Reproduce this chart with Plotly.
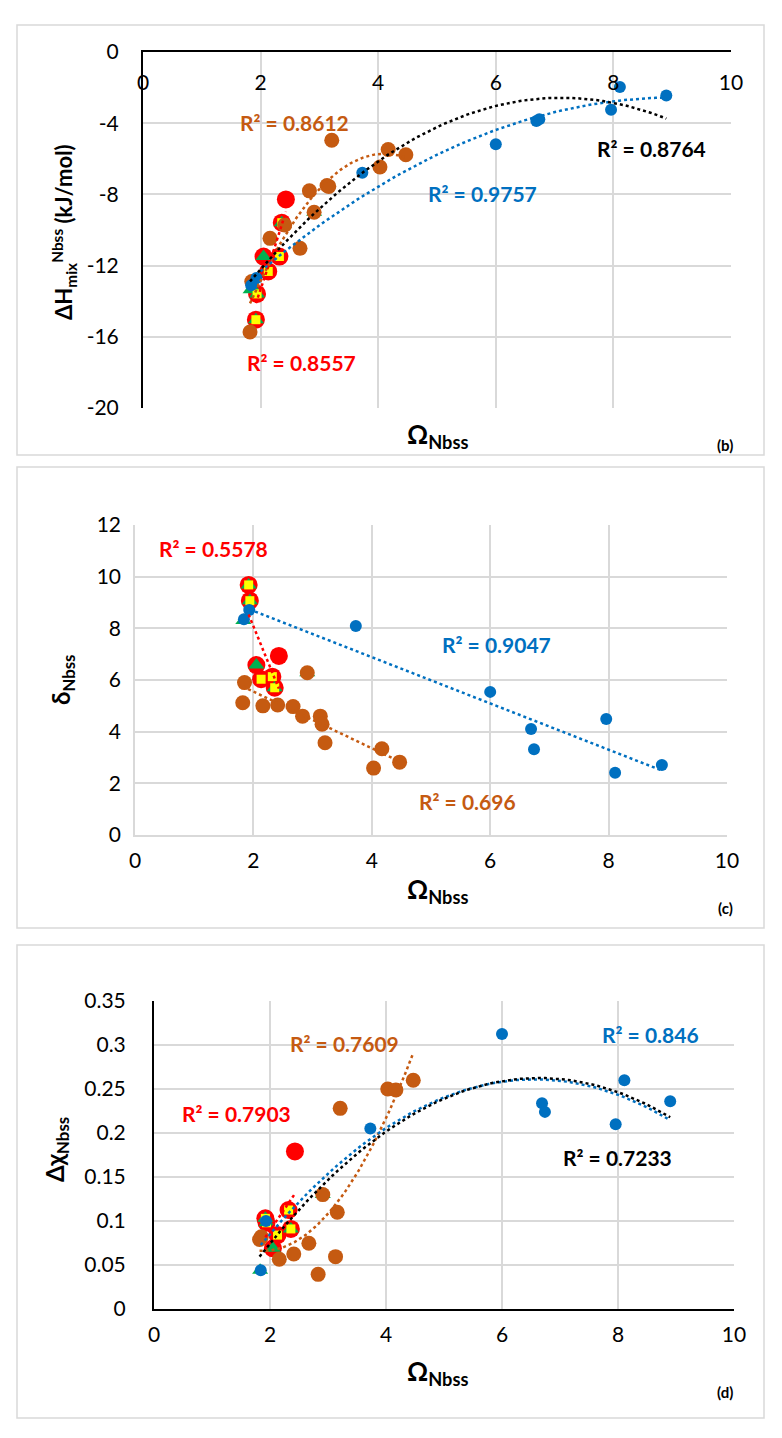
import numpy as np
import plotly.graph_objects as go

# page has an 8px body margin, so the figure is drawn 8px in from the corner
OFF = 8
W, H = 782 - OFF, 1438 - OFF

# Omega_Nbss (shared by the three panels)
blue_x = [1.84, 1.93, 3.73, 6.00, 6.69, 6.74, 7.96, 8.11, 8.90]
brown_x = [1.82, 1.85, 2.16, 2.41, 2.67, 2.83, 2.91, 3.13, 3.16, 3.21, 4.03, 4.17, 4.47]
red_x = [1.92, 1.94, 2.05, 2.13, 2.32, 2.36, 2.43]
green_x = [1.83, 1.92, 1.94, 2.05, 2.36, 2.91]
yellow_x = [1.92, 1.94, 2.13, 2.32, 2.36]

# (b) dH_mix Nbss (kJ/mol)
blue_h = [-13.1, -12.7, -6.79, -5.18, -3.87, -3.78, -3.24, -1.97, -2.44]
brown_h = [-15.73, -12.9, -10.47, -9.72, -11.03, -7.8, -9.0, -7.5, -7.55, -4.96, -6.46, -5.48, -5.77]
red_h = [-15.04, -13.59, -11.49, -12.33, -11.49, -9.59, -8.28]
green_h = [-13.36, -15.04, -13.59, -11.49, -9.59, -9.0]
yellow_h = [-15.04, -13.59, -12.33, -11.49, -9.59]
h_ticks = [-20, -16, -12, -8, -4, 0]
h_labels = ['-20', '-16', '-12', '-8', '-4', '0']

# (c) delta Nbss
blue_d = [8.35, 8.71, 8.09, 5.54, 4.10, 3.32, 4.49, 2.41, 2.71]
brown_d = [5.12, 5.90, 5.00, 5.03, 4.97, 4.60, 6.28, 4.60, 4.29, 3.57, 2.59, 3.34, 2.82]
red_d = [9.68, 9.07, 6.58, 6.03, 6.13, 5.70, 6.93]
green_d = [8.30, 9.68, 9.07, 6.58, 5.70, 6.28]
yellow_d = [9.68, 9.07, 6.03, 6.13, 5.70]

# (d) delta chi Nbss
blue_c = [0.044, 0.100, 0.205, 0.3125, 0.2337, 0.224, 0.210, 0.260, 0.236]
brown_c = [0.079, 0.082, 0.0565, 0.0625, 0.0747, 0.0394, 0.130, 0.0595, 0.110, 0.228, 0.250, 0.249, 0.260]
red_c = [0.103, 0.098, 0.069, 0.084, 0.1125, 0.091, 0.179]
green_c = [0.044, 0.103, 0.098, 0.069, 0.091, 0.130]
yellow_c = [0.103, 0.098, 0.084, 0.1125, 0.091]

BLUE = '#0070C0'
BROWN = '#C55A11'
RED = '#FF0000'
GREEN = '#00B050'
YELLOW = '#FFFF00'
GRID = '#D9D9D9'
FONT = 'Lato'


def fx(px):
    return (px - OFF) / W


def fy(py):
    return 1 - (py - OFF) / H


def trend(x, y, order):
    # excel style polynomial trendline over the range of the series
    c = np.polyfit(x, y, order)
    xs = np.linspace(min(x), max(x), 80)
    return xs, np.polyval(c, xs)


fig = go.Figure()

panels = [
    ('x', 'y', (blue_h, brown_h, red_h, green_h, yellow_h), {'blue': 2, 'brown': 2, 'red': 2, 'black': 2}),
    ('x2', 'y2', (blue_d, brown_d, red_d, green_d, yellow_d), {'blue': 1, 'brown': 1, 'red': 1}),
    ('x3', 'y3', (blue_c, brown_c, red_c, green_c, yellow_c), {'blue': 2, 'brown': 2, 'red': 1, 'black': 2}),
]

for xa, ya, (b, br, r, g, yl), orders in panels:
    # markers
    fig.add_trace(go.Scatter(x=red_x, y=r, mode='markers', xaxis=xa, yaxis=ya,
                             marker=dict(color=RED, size=18)))
    fig.add_trace(go.Scatter(x=green_x, y=g, mode='markers', xaxis=xa, yaxis=ya,
                             marker=dict(color=GREEN, size=14, symbol='triangle-up')))
    fig.add_trace(go.Scatter(x=yellow_x, y=yl, mode='markers', xaxis=xa, yaxis=ya,
                             marker=dict(color=YELLOW, size=9, symbol='square')))
    fig.add_trace(go.Scatter(x=brown_x, y=br, mode='markers', xaxis=xa, yaxis=ya,
                             marker=dict(color=BROWN, size=15)))
    fig.add_trace(go.Scatter(x=blue_x, y=b, mode='markers', xaxis=xa, yaxis=ya,
                             marker=dict(color=BLUE, size=12)))
    # trendlines
    for xs_, ys_, col, key in [(brown_x, br, BROWN, 'brown'), (red_x, r, RED, 'red'),
                               (blue_x, b, BLUE, 'blue')]:
        tx, ty = trend(xs_, ys_, orders[key])
        fig.add_trace(go.Scatter(x=tx, y=ty, mode='lines', xaxis=xa, yaxis=ya,
                                 line=dict(color=col, width=2.5, dash='dot')))
    if 'black' in orders:
        tx, ty = trend(blue_x + brown_x + red_x, b + br + r, orders['black'])
        fig.add_trace(go.Scatter(x=tx, y=ty, mode='lines', xaxis=xa, yaxis=ya,
                                 line=dict(color='black', width=2.5, dash='dot')))

tickfont = dict(family=FONT, size=21, color='black')


def xdom(a, b):
    return [fx(a), fx(b)]


def ydom(top, bottom):
    return [fy(bottom), fy(top)]


common = dict(gridcolor=GRID, gridwidth=1.5, zeroline=False, ticks='', automargin=False,
              tickfont=tickfont, showline=True)

fig.update_layout(
    width=W, height=H,
    margin=dict(l=0, r=0, t=0, b=0, pad=0),
    paper_bgcolor='white', plot_bgcolor='white',
    showlegend=False,
    font=dict(family=FONT),
    # panel (b)
    xaxis=dict(domain=xdom(143, 731), range=[0, 10], dtick=2, side='top', anchor='y',
               linecolor='black', linewidth=2, ticklabelposition='inside',
               ticklabeloverflow='allow', ticklabelstandoff=25, **common),
    yaxis=dict(domain=ydom(52, 408), range=[-20, 0], tickvals=h_ticks, ticktext=h_labels,
               anchor='x', linecolor='black', linewidth=2, ticklabeloverflow='allow',
               ticklabelstandoff=18, **common),
    # panel (c)
    xaxis2=dict(domain=xdom(135, 727), range=[0, 10], dtick=2, anchor='y2',
                linecolor=GRID, linewidth=1.5, ticklabelstandoff=6, **common),
    yaxis2=dict(domain=ydom(525, 835), range=[0, 12], dtick=2, anchor='x2',
                linecolor=GRID, linewidth=1.5, ticklabelstandoff=8, **common),
    # panel (d)
    xaxis3=dict(domain=xdom(154, 734), range=[0, 10], dtick=2, anchor='y3',
                linecolor='black', linewidth=2, ticklabelstandoff=6, **common),
    yaxis3=dict(domain=ydom(1001, 1309), range=[0, 0.35], dtick=0.05, anchor='x3',
                linecolor='black', linewidth=2, ticklabelstandoff=22, **common),
)

# outer frames of the three panels
for top, bottom in [(25, 455), (467, 928), (945, 1418)]:
    fig.add_shape(type='rect', xref='paper', yref='paper', layer='below',
                  x0=fx(17), x1=fx(764), y0=fy(bottom), y1=fy(top),
                  line=dict(color=GRID, width=1.5), fillcolor='rgba(0,0,0,0)')


def note(text, px, py, color='black', size=21, angle=0):
    fig.add_annotation(text=text, x=fx(px), y=fy(py), xref='paper', yref='paper',
                       xanchor='center', yanchor='middle',
                       showarrow=False, textangle=angle,
                       font=dict(family=FONT, size=size, color=color))


# R² labels
note('<b>R² = 0.8612</b>', 294, 122, BROWN)
note('<b>R² = 0.8764</b>', 651, 148, 'black')
note('<b>R² = 0.9757</b>', 482, 193, BLUE)
note('<b>R² = 0.8557</b>', 301, 362, RED)

note('<b>R² = 0.5578</b>', 213, 548, RED)
note('<b>R² = 0.9047</b>', 496, 644, BLUE)
note('<b>R² = 0.696</b>', 467, 801, BROWN)

note('<b>R² = 0.7609</b>', 344, 1043, BROWN)
note('<b>R² = 0.846</b>', 650, 1034, BLUE)
note('<b>R² = 0.7233</b>', 617, 1157, 'black')
note('<b>R² = 0.7903</b>', 236, 1113, RED)

# axis titles
note('<b>ΔH<sub>mix</sub><sup>Nbss</sup> (kJ/mol)</b>', 64, 232, size=22, angle=-90)
note('<b>δ<sub>Nbss</sub></b>', 62, 680, size=24, angle=-90)
note('<b>Δχ<sub>Nbss</sub></b>', 56, 1150, size=24, angle=-90)

for py, lab, ly in [(435, '(b)', 445), (890, '(c)', 908), (1372, '(d)', 1392)]:
    note('<b>Ω<sub>Nbss</sub></b>', 437, py, size=26)
    note('<b>' + lab + '</b>', 725, ly, size=15)

fig.write_html("out.html")
